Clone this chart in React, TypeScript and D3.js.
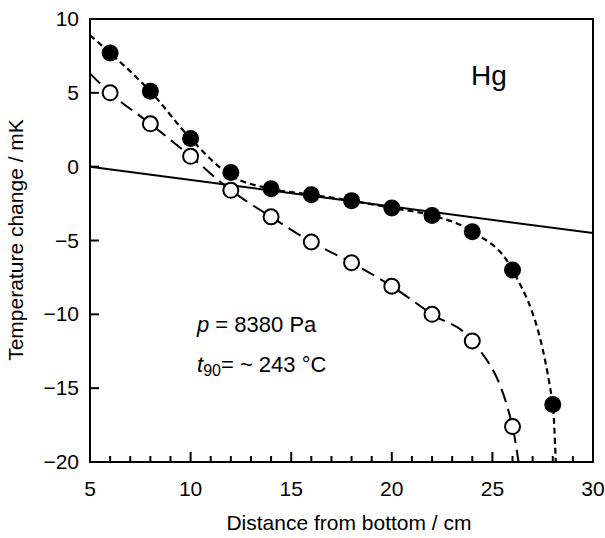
import { useEffect, useRef } from "react";
import * as d3 from "d3";

// data
const positions = [6, 8, 10, 12, 14, 16, 18, 20, 22, 24, 26, 28];
const filledValues = [7.7, 5.1, 1.9, -0.4, -1.5, -1.9, -2.3, -2.8, -3.3, -4.4, -7.0, -16.1];
const openPositions = [6, 8, 10, 12, 14, 16, 18, 20, 22, 24, 26];
const openValues = [5.0, 2.9, 0.7, -1.6, -3.4, -5.1, -6.5, -8.1, -10.0, -11.8, -17.6];

// fitted curves (include end points where they leave the frame)
const filledCurveX = [5, 6, 8, 10, 12, 14, 16, 18, 20, 22, 24, 26, 28, 28.15];
const filledCurveY = [8.9, 7.7, 5.1, 1.9, -0.6, -1.5, -1.9, -2.3, -2.8, -3.3, -4.4, -7.0, -16.1, -20];
const openCurveX = [5, 6, 8, 10, 12, 14, 16, 18, 20, 22, 24, 26, 26.3];
const openCurveY = [6.3, 5.0, 2.9, 0.7, -1.6, -3.4, -5.1, -6.5, -8.1, -10.0, -11.8, -17.6, -20];
const lineX = [5, 30];
const lineY = [0, -4.5];

const xTicks = [5, 10, 15, 20, 25, 30];
const yTicks = [10, 5, 0, -5, -10, -15, -20];

const FONT = "'Liberation Sans', Arial, sans-serif";

export default function App() {
  const ref = useRef<SVGSVGElement>(null);

  useEffect(() => {
    const svg = d3.select(ref.current);
    svg.selectAll("*").remove();

    const left = 90, right = 593, top = 19, bottom = 462;

    const x = d3.scaleLinear().domain([5, 30]).range([left, right]);
    const y = d3.scaleLinear().domain([-20, 10]).range([bottom, top]);

    const clip = svg.append("clipPath").attr("id", "plot");
    clip.append("rect").attr("x", left).attr("y", top).attr("width", right - left).attr("height", bottom - top);

    const g = svg.append("g").attr("clip-path", "url(#plot)");

    const line = d3.line<[number, number]>().x(d => x(d[0])).y(d => y(d[1]));
    const curve = d3.line<[number, number]>().x(d => x(d[0])).y(d => y(d[1])).curve(d3.curveMonotoneX);

    g.append("path")
      .attr("d", line(lineX.map((v, i) => [v, lineY[i]]) as [number, number][]))
      .attr("fill", "none").attr("stroke", "#000").attr("stroke-width", 2);

    g.append("path")
      .attr("d", curve(openCurveX.map((v, i) => [v, openCurveY[i]]) as [number, number][]))
      .attr("fill", "none").attr("stroke", "#000").attr("stroke-width", 2)
      .attr("stroke-dasharray", "14,7");

    g.append("path")
      .attr("d", curve(filledCurveX.map((v, i) => [v, filledCurveY[i]]) as [number, number][]))
      .attr("fill", "none").attr("stroke", "#000").attr("stroke-width", 2.2)
      .attr("stroke-dasharray", "6,4");

    g.selectAll("circle.open")
      .data(openPositions.map((v, i) => [v, openValues[i]]))
      .join("circle")
      .attr("class", "open")
      .attr("cx", d => x(d[0])).attr("cy", d => y(d[1])).attr("r", 7.5)
      .attr("fill", "#fff").attr("stroke", "#000").attr("stroke-width", 2);

    g.selectAll("circle.filled")
      .data(positions.map((v, i) => [v, filledValues[i]]))
      .join("circle")
      .attr("class", "filled")
      .attr("cx", d => x(d[0])).attr("cy", d => y(d[1])).attr("r", 8.5)
      .attr("fill", "#000");

    // frame
    svg.append("rect")
      .attr("x", left).attr("y", top).attr("width", right - left).attr("height", bottom - top)
      .attr("fill", "none").attr("stroke", "#000").attr("stroke-width", 2);

    // bottom ticks (inward)
    const xAxis = svg.append("g");
    xAxis.selectAll("line")
      .data(d3.range(6, 30))
      .join("line")
      .attr("x1", d => x(d)).attr("x2", d => x(d))
      .attr("y1", bottom).attr("y2", d => bottom - (d % 5 === 0 ? 10 : 6))
      .attr("stroke", "#000").attr("stroke-width", 2);
    xAxis.selectAll("text")
      .data(xTicks)
      .join("text")
      .attr("x", d => x(d)).attr("y", bottom + 34)
      .attr("text-anchor", "middle")
      .attr("font-family", FONT).attr("font-size", 21)
      .text(d => d);

    // left ticks
    const yAxis = svg.append("g");
    yAxis.selectAll("line")
      .data(yTicks.filter(d => d > -20 && d < 10))
      .join("line")
      .attr("x1", left).attr("x2", left + 9)
      .attr("y1", d => y(d)).attr("y2", d => y(d))
      .attr("stroke", "#000").attr("stroke-width", 2);
    yAxis.selectAll("text")
      .data(yTicks)
      .join("text")
      .attr("x", left - 11).attr("y", d => y(d) + 7)
      .attr("text-anchor", "end")
      .attr("font-family", FONT).attr("font-size", 21)
      .text(d => (d < 0 ? "\u2212" + Math.abs(d) : String(d)));

    svg.append("text")
      .attr("x", 349).attr("y", 530)
      .attr("text-anchor", "middle")
      .attr("font-family", FONT).attr("font-size", 21)
      .text("Distance from bottom / cm");

    svg.append("text")
      .attr("transform", `translate(23,240) rotate(-90)`)
      .attr("text-anchor", "middle")
      .attr("font-family", FONT).attr("font-size", 21)
      .text("Temperature change / mK");

    svg.append("text")
      .attr("x", 471).attr("y", 85)
      .attr("font-family", FONT).attr("font-size", 28)
      .text("Hg");

    const t1 = svg.append("text")
      .attr("x", 197).attr("y", 332)
      .attr("font-family", FONT).attr("font-size", 22);
    t1.append("tspan").attr("font-style", "italic").text("p");
    t1.append("tspan").text(" = 8380 Pa");

    const t2 = svg.append("text")
      .attr("x", 197).attr("y", 372)
      .attr("font-family", FONT).attr("font-size", 22);
    t2.append("tspan").attr("font-style", "italic").text("t");
    t2.append("tspan").attr("font-size", 16).attr("dy", 4).text("90");
    t2.append("tspan").attr("dy", -4).text("= ~ 243 \u00B0C");
  }, []);

  return (
    <svg
      ref={ref}
      width={605}
      height={538}
      style={{ position: "absolute", left: 0, top: 0, background: "#fff" }}
    />
  );
}
